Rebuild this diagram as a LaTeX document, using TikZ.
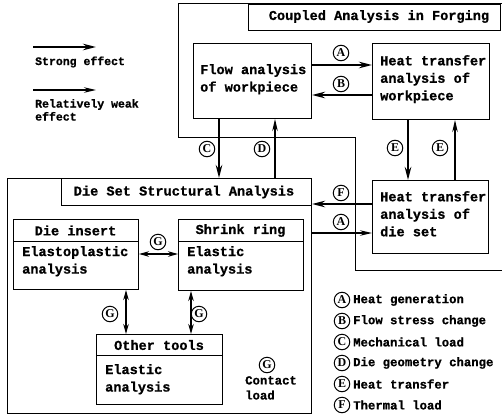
\documentclass[tikz,border=0pt]{standalone}
\usepackage{fontspec}
\setmainfont{Liberation Mono}[BoldFeatures={FakeBold=0.8}]
\newfontfamily\cirfam{Liberation Serif}
\usetikzlibrary{arrows.meta}
\newcommand\boxfnt{\fontsize{13.6}{17.5}\selectfont\bfseries}
\newcommand\legfnt{\fontsize{12.3}{15}\selectfont\bfseries}
\newcommand\smfnt{\fontsize{11.5}{13}\selectfont\bfseries}
\newcommand\cirfnt{\fontsize{12}{12}\selectfont\cirfam\bfseries}
\tikzset{
  frame/.style={draw, line width=1pt, inner sep=0pt, anchor=north west},
  txt/.style={font=\boxfnt, inner sep=0pt},
  btxt/.style={font=\boxfnt, inner sep=0pt, anchor=north west, align=left},
  strong/.style={line width=2.3pt, -{Stealth[length=13pt,width=6.5pt]}},
  weak/.style={line width=1.3pt, -{Stealth[length=12pt,width=5.5pt]}},
  weakboth/.style={line width=1.3pt, {Stealth[length=10pt,width=5.5pt]}-{Stealth[length=10pt,width=5.5pt]}},
  lbl/.style={circle, draw, line width=1pt, inner sep=0pt, minimum size=15.5pt, font=\cirfnt},
  leg/.style={anchor=west, inner sep=0pt, font=\legfnt},
}
\begin{document}
\begin{tikzpicture}[x=1pt,y=-1pt]
\useasboundingbox (0,0) rectangle (502,415);
% coupled analysis frame
\draw[line width=1pt] (502,3) -- (178,3) -- (178,137) -- (355,137) -- (355,270) -- (502,270);
\node[frame, minimum width=252pt, minimum height=26pt] (ctitle) at (248,4) {};
\node[txt] (ctt) at (379,16.5) {Coupled Analysis in Forging};
% upper boxes
\node[frame, minimum width=118pt, minimum height=75pt] (flow) at (193,43) {};
\node[btxt] (flowt) at (200,64) {Flow analysis\\of workpiece};
\node[frame, minimum width=117pt, minimum height=76pt] (htw) at (372,43) {};
\node[btxt] (htwt) at (380,55) {Heat transfer\\analysis of\\workpiece};
\node[frame, minimum width=116pt, minimum height=73pt] (htd) at (372,180) {};
\node[btxt] (htdt) at (380,191) {Heat transfer\\analysis of\\die set};
% die set frame
\node[frame, minimum width=304pt, minimum height=235pt] (dieset) at (7,178) {};
\node[frame, minimum width=250pt, minimum height=27pt] (dstitle) at (61,178) {};
\node[txt] (dst) at (184,192) {Die Set Structural Analysis};
% die insert
\node[frame, minimum width=125pt, minimum height=70pt] (di) at (13,219) {};
\draw[line width=1pt] (di.west |- 0,241) -- (di.east |- 0,241);
\node[txt] (dih) at (75.5,230.5) {Die insert};
\node[btxt] (dib) at (22,246) {Elastoplastic\\analysis};
% shrink ring
\node[frame, minimum width=125pt, minimum height=71pt] (sr) at (178,219) {};
\draw[line width=1pt] (sr.west |- 0,241) -- (sr.east |- 0,241);
\node[txt] (srh) at (240.5,230.5) {Shrink ring};
\node[btxt] (srb) at (187,246) {Elastic\\analysis};
% other tools
\node[frame, minimum width=126pt, minimum height=70pt] (ot) at (96,334) {};
\draw[line width=1pt] (ot.west |- 0,355) -- (ot.east |- 0,355);
\node[txt] (oth) at (159,345) {Other tools};
\node[btxt] (otb) at (105,364) {Elastic\\analysis};
% contact load
\node[lbl] (gc) at (267,365) {G};
\node[btxt, font=\legfnt] (cl) at (245,376) {Contact\\load};
% arrows between upper boxes
\draw[strong] (flow.east |- 0,65) -- (htw.west |- 0,65);
\draw[strong] (htw.west |- 0,95) -- (flow.east |- 0,95);
\node[lbl] (la) at (341,53) {A};
\node[lbl] (lb) at (341,84) {B};
\draw[strong] (flow.south -| 219,0) -- (dieset.north -| 219,0);
\draw[weak] (dieset.north -| 275,0) -- (flow.south -| 275,0);
\node[lbl] (lc) at (207,149) {C};
\node[lbl] (ld) at (262,149) {D};
\draw[strong] (htw.south -| 408,0) -- (htd.north -| 408,0);
\draw[weak] (htd.north -| 455,0) -- (htw.south -| 455,0);
\node[lbl] (le1) at (395,148) {E};
\node[lbl] (le2) at (440,148) {E};
\draw[strong] (htd.west |- 0,204) -- (dieset.east |- 0,204);
\draw[weak] (dieset.east |- 0,233) -- (htd.west |- 0,233);
\node[lbl] (lf) at (341,193) {F};
\node[lbl] (la2) at (341,222) {A};
% G arrows
\draw[weakboth] (di.east |- 0,254) -- (sr.west |- 0,254);
\draw[weakboth] (di.south -| 126,0) -- (ot.north -| 126,0);
\draw[weakboth] (sr.south -| 191,0) -- (ot.north -| 191,0);
\node[lbl] (lg1) at (158,242) {G};
\node[lbl] (lg2) at (110,314) {G};
\node[lbl] (lg3) at (199,314) {G};
% left legend
\coordinate (s1) at (33,47); \coordinate (s2) at (96,47);
\coordinate (w1) at (33,90); \coordinate (w2) at (96,90);
\draw[strong] (s1) -- (s2);
\draw[weak] (w1) -- (w2);
\node[anchor=west, inner sep=0pt, font=\smfnt] (st) at (35,62) {Strong effect};
\node[anchor=north west, inner sep=0pt, align=left, font=\smfnt] (wt) at (35,99) {Relatively weak\\effect};
% right legend
\foreach \l/\y/\t in {A/300/Heat generation, B/321/Flow stress change, C/342/Mechanical load, D/363/Die geometry change, E/384/Heat transfer, F/405/Thermal load}{
  \node[lbl] (k\l) at (342,\y) {\l};
  \node[leg] (t\l) at (353,\y) {\t};
}
\end{tikzpicture}
\end{document}
